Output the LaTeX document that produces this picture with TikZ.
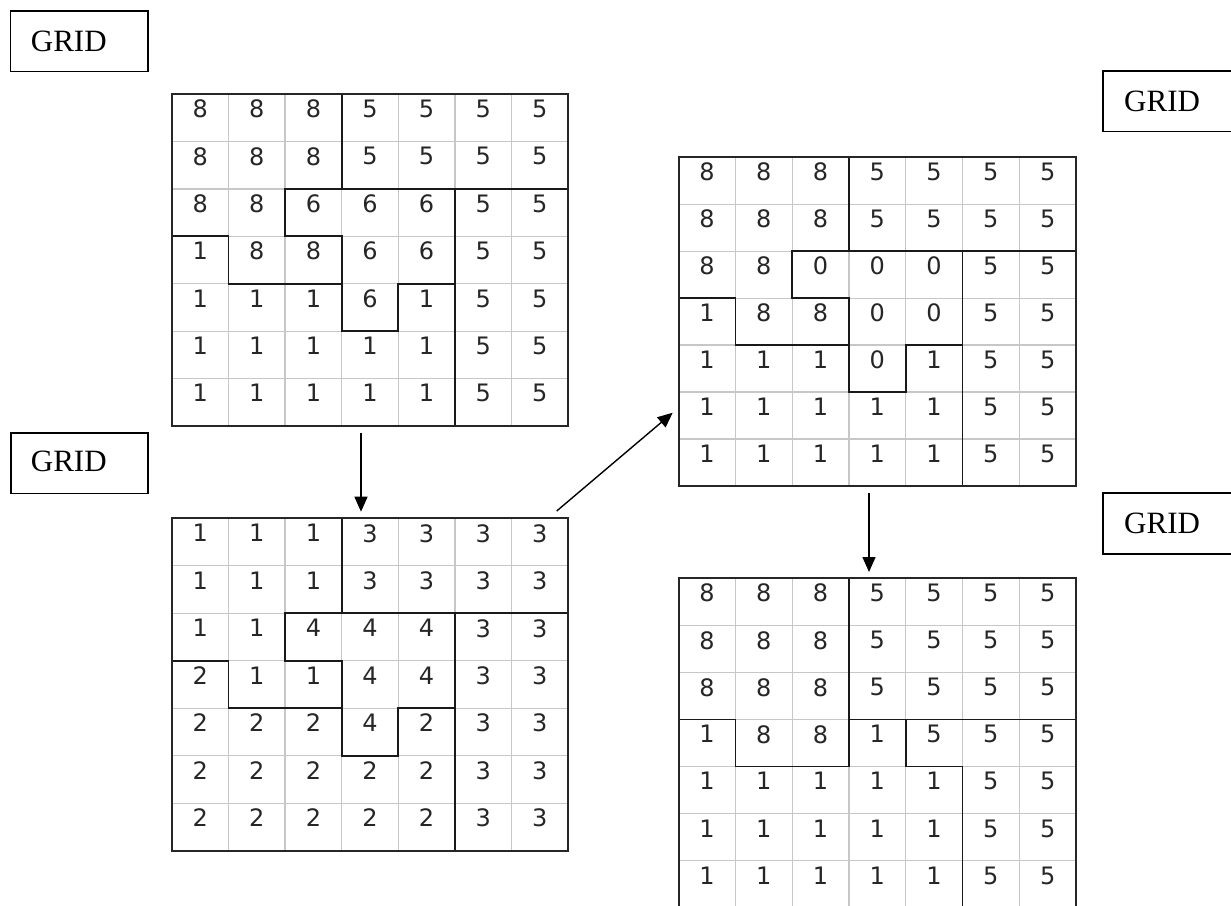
\documentclass[tikz,border=0pt]{standalone}
\usepackage{fontspec}
\setmainfont{Liberation Serif}
\newfontfamily\digitfont{DejaVu Sans}
\usetikzlibrary{arrows.meta,calc}
\tikzset{
  innerline/.style={draw=black!22, line width=1.3pt},
  regionline/.style={draw=black!90, line width=1.8pt, line cap=rect, line join=miter},
  outerline/.style={draw=black!85, line width=2pt},
  digit/.style={font=\digitfont\fontsize{24}{24}\selectfont, text=black!85, anchor=north, inner sep=0pt},
  labelbox/.style={draw=black, line width=1.5pt, inner sep=0pt, minimum width=137.3pt, minimum height=60.7pt, anchor=north west},
  labeltext/.style={font=\fontsize{31}{31}\selectfont, inner sep=0pt, anchor=base west},
  gridbox/.style={inner sep=0pt, outer sep=0pt, anchor=north west},
  arr/.style={-{Triangle[length=15pt,width=13pt]}, line width=1.4pt}
}
\newcommand{\drawcellgrid}[3]{%
  \foreach \i in {1,...,6} \draw[innerline] (\i,0) -- (\i,7);
  \foreach \j in {1,...,6} \draw[innerline] (0,\j) -- (7,\j);
  #3
  \draw[outerline] (0,0) rectangle (7,7);
  \foreach \row [count=\r from 0] in {#2} {
    \foreach \v [count=\c from 0] in \row {
      \node[digit] (#1-\r-\c) at (\c+0.5,\r+0.12) {\v};
    }
  }
}
\newcommand{\regionsA}{%
  \draw[regionline] (3,0) -- (3,2);
  \draw[regionline] (2,3) -- (2,2) -- (7,2);
  \draw[regionline] (0,3) -- (1,3) -- (1,4) -- (3,4) -- (3,5) -- (4,5) -- (4,4) -- (5,4);
  \draw[regionline] (2,3) -- (3,3) -- (3,4);
  \draw[regionline] (5,2) -- (5,7);
}
\newcommand{\regionsB}{%
  \draw[regionline] (3,0) -- (3,4);
  \draw[regionline] (0,3) -- (1,3) -- (1,4) -- (3,4);
  \draw[regionline] (3,3) -- (7,3);
  \draw[regionline] (4,3) -- (4,4) -- (5,4) -- (5,7);
}
\begin{document}
\begin{tikzpicture}[x=1pt, y=-1pt]
\useasboundingbox (0,0) rectangle (1231,905);
\clip (0,0) rectangle (1231,905);
\fill[white] (0,0) rectangle (1231,905);

% label boxes
\node[labelbox] (B1) at (9.7,10) {};
\node[labeltext] (T1) at (30.7,51.7) {GRID};
\node[labelbox] (B2) at (10,432) {};
\node[labeltext] (T2) at (30.7,471.7) {GRID};
\node[labelbox] (B3) at (1102.3,70) {};
\node[labeltext] (T3) at (1124,111.7) {GRID};
\node[labelbox] (B4) at (1102.3,492.3) {};
\node[labeltext] (T4) at (1124,533) {GRID};

% grid frames (for connectors)
\node[gridbox, minimum width=396pt, minimum height=332pt] (G1) at (172,94) {};
\node[gridbox, minimum width=396pt, minimum height=332.4pt] (G2) at (172,518.3) {};
\node[gridbox, minimum width=397.3pt, minimum height=328.7pt] (G3) at (678.7,157.3) {};
\node[gridbox, minimum width=397.3pt, minimum height=329.5pt] (G4) at (678.7,578.3) {};

% grid 1
\begin{scope}[shift={(172,94)}, x=56.571pt, y=-47.43pt]
\drawcellgrid{g1}{{8,8,8,5,5,5,5},{8,8,8,5,5,5,5},{8,8,6,6,6,5,5},{1,8,8,6,6,5,5},{1,1,1,6,1,5,5},{1,1,1,1,1,5,5},{1,1,1,1,1,5,5}}{\regionsA}
\end{scope}
% grid 2
\begin{scope}[shift={(172,518.3)}, x=56.571pt, y=-47.49pt]
\drawcellgrid{g2}{{1,1,1,3,3,3,3},{1,1,1,3,3,3,3},{1,1,4,4,4,3,3},{2,1,1,4,4,3,3},{2,2,2,4,2,3,3},{2,2,2,2,2,3,3},{2,2,2,2,2,3,3}}{\regionsA}
\end{scope}
% grid 3
\begin{scope}[shift={(678.7,157.3)}, x=56.757pt, y=-46.96pt]
\drawcellgrid{g3}{{8,8,8,5,5,5,5},{8,8,8,5,5,5,5},{8,8,0,0,0,5,5},{1,8,8,0,0,5,5},{1,1,1,0,1,5,5},{1,1,1,1,1,5,5},{1,1,1,1,1,5,5}}{\regionsA}
\end{scope}
% grid 4
\begin{scope}[shift={(678.7,578.3)}, x=56.757pt, y=-47.07pt]
\drawcellgrid{g4}{{8,8,8,5,5,5,5},{8,8,8,5,5,5,5},{8,8,8,5,5,5,5},{1,8,8,1,5,5,5},{1,1,1,1,1,5,5},{1,1,1,1,1,5,5},{1,1,1,1,1,5,5}}{\regionsB}
\end{scope}

% connectors
\coordinate (a1s) at ([xshift=-9pt,yshift=-7pt]G1.south);
\coordinate (a1e) at ([xshift=-9pt,yshift=6.6pt]G2.north);
\coordinate (a2s) at ([xshift=-11.3pt,yshift=7.3pt]G2.north east);
\coordinate (a2e) at ([xshift=-6pt,yshift=73.3pt]G3.south west);
\coordinate (a3s) at ([xshift=-8.35pt,yshift=-7pt]G3.south);
\coordinate (a3e) at ([xshift=-8.35pt,yshift=6.3pt]G4.north);
\draw[arr] (a1s) -- (a1e);
\draw[arr] (a2s) -- (a2e);
\draw[arr] (a3s) -- (a3e);
\end{tikzpicture}
\end{document}
